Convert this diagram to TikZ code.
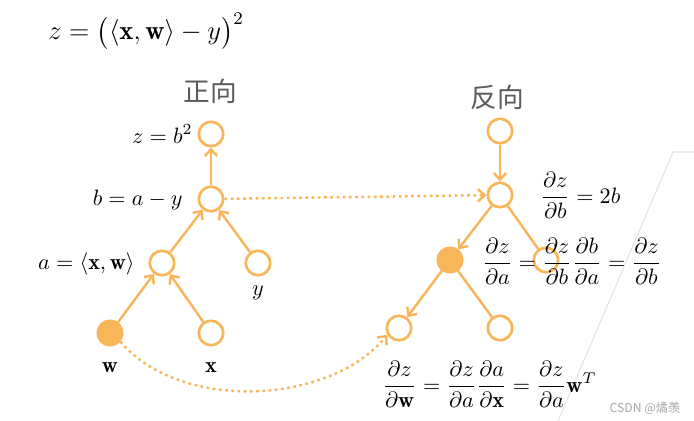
\documentclass[tikz,border=0pt]{standalone}
\usepackage{amsmath}
\usepackage{fontspec}
\usetikzlibrary{arrows.meta,positioning}
\newfontfamily\cjkfont{Noto Sans CJK SC}
\definecolor{GradOrange}{HTML}{F9B55A}
\definecolor{TitleGray}{HTML}{5A5A5A}
\definecolor{MarkGray}{HTML}{A8A8A8}
\definecolor{EdgeGray}{HTML}{E4E4E4}

\begin{document}
\begin{tikzpicture}[
    x=0.45pt, y=-0.45pt,
    var/.style={
      circle,
      draw=GradOrange,
      line width=1.2pt,
      minimum size=11pt,
      inner sep=0pt
    },
    hot/.style={var, fill=GradOrange},
    flow/.style={draw=GradOrange, line width=1.1pt,
      -{Straight Barb[length=3pt,width=5.5pt]}},
    link/.style={draw=GradOrange, line width=1.1pt},
    jump/.style={draw=GradOrange, line width=1.1pt,
      dash pattern=on 1.2pt off 1.6pt,
      -{Straight Barb[length=3pt,width=5.5pt]}},
    eq/.style={inner sep=0pt},
    head/.style={font=\cjkfont\fontsize{12}{14}\selectfont, text=TitleGray}
  ]

  \useasboundingbox (0,0) rectangle (694,421);

  % Slide edge
  \draw[EdgeGray, line width=0.5pt] (694,152) -- (673,152) -- (558,421);

  % Loss
  \node[eq, anchor=west, font=\fontsize{12}{14}\selectfont] (loss) at (48,31)
    {$z=\bigl(\langle\mathbf{x},\mathbf{w}\rangle-y\bigr)^2$};

  % Forward graph
  \node[head] (fwd) at (210,91) {正向};
  \node[var] (fz) at (211,134) {};
  \node[var] (fb) at (211,199) {};
  \node[var] (fa) at (162,263) {};
  \node[var] (fy) at (258,263) {};
  \node[hot] (fw) at (110,333) {};
  \node[var] (fx) at (211,333) {};

  \draw[flow] (fw) -- (fa);
  \draw[flow] (fx) -- (fa);
  \draw[flow] (fa) -- (fb);
  \draw[flow] (fy) -- (fb);
  \draw[flow] (fb) -- (fz);

  \node[eq, anchor=east] (lz) at (193,134) {$z=b^2$};
  \node[eq, anchor=east] (lb) at (183,200) {$b=a-y$};
  \node[eq, anchor=east] (la) at (135,264) {$a=\langle\mathbf{x},\mathbf{w}\rangle$};
  \node (ly) at (258,293) {$y$};
  \node (lw) at (110,368) {$\mathbf{w}$};
  \node (lx) at (211,368) {$\mathbf{x}$};

  % Backward graph
  \node[head] (bwd) at (497,97) {反向};
  \node[var] (bz) at (500,131) {};
  \node[var] (bb) at (500,195) {};
  \node[hot] (ba) at (450,260) {};
  \node[var] (by) at (546,260) {};
  \node[var] (bw) at (399,328) {};
  \node[var] (bx) at (500,328) {};

  \draw[flow] (bz) -- (bb);
  \draw[flow] (bb) -- (ba);
  \draw[link] (bb) -- (by);
  \draw[flow] (ba) -- (bw);
  \draw[link] (ba) -- (bx);

  \node[eq, anchor=base west] (ldb) at (540,203)
    {$\dfrac{\partial z}{\partial b}=2b$};
  \node[eq, anchor=base west] (lda) at (482,269)
    {$\dfrac{\partial z}{\partial a}=\dfrac{\partial z}{\partial b}\dfrac{\partial b}{\partial a}=\dfrac{\partial z}{\partial b}$};
  \node[eq, anchor=base west] (ldw) at (382,392)
    {$\dfrac{\partial z}{\partial \mathbf{w}}=\dfrac{\partial z}{\partial a}\dfrac{\partial a}{\partial \mathbf{x}}=\dfrac{\partial z}{\partial a}\mathbf{w}^T$};

  % Forward values passed to the backward pass
  \draw[jump] (fb) -- (bb);
  \draw[jump] (fw.-40) .. controls (180,412) and (330,405) .. (bw.210);

  \node[font=\cjkfont\fontsize{5.5}{6}\selectfont, text=MarkGray] (mark) at (645,408)
    {CSDN @燏羡};

\end{tikzpicture}
\end{document}
